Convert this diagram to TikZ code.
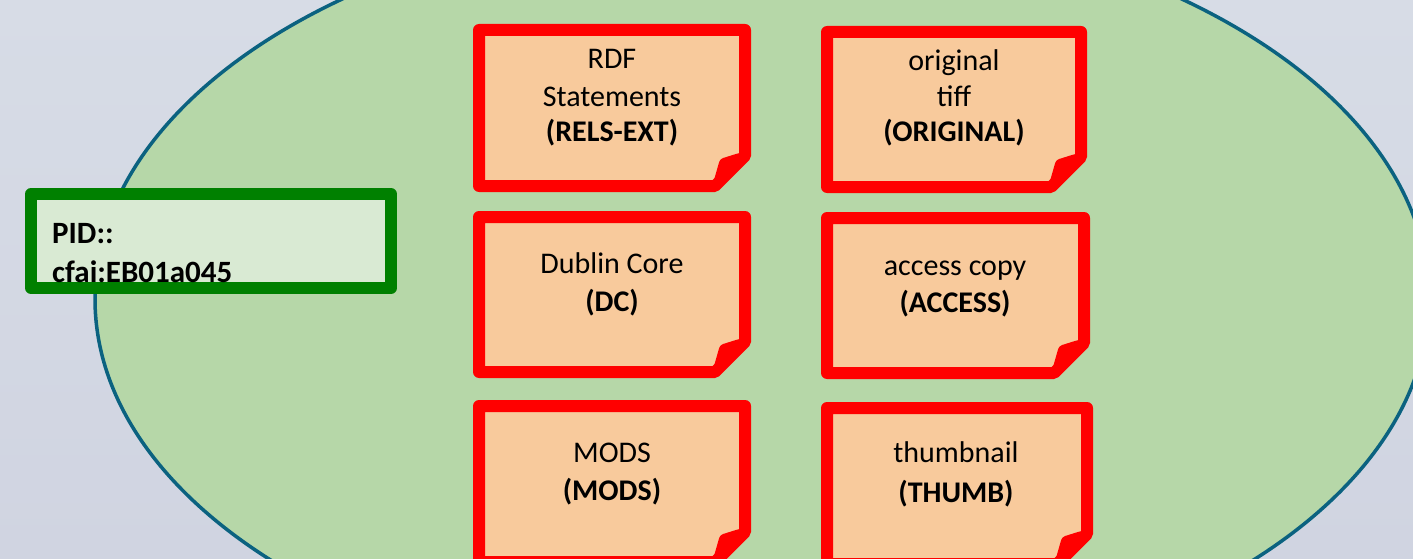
\documentclass[tikz,border=0pt]{standalone}
\usepackage{fontspec}
\setmainfont{Carlito}
\definecolor{bgtop}{HTML}{D7DCE6}
\definecolor{bgbot}{HTML}{D0D4E1}
\definecolor{ellfill}{HTML}{B6D7A8}
\definecolor{elledge}{HTML}{0B6280}
\definecolor{peach}{HTML}{F8CA9C}
\definecolor{pidfill}{HTML}{D9EAD3}
\definecolor{pidedge}{HTML}{008000}
\tikzset{
  docline/.style={draw=red, fill=peach, line width=12pt, line join=round},
  pidline/.style={draw=pidedge, fill=pidfill, line width=12pt, line join=round},
  boxtxt/.style={anchor=base, inner sep=0pt, font=\fontsize{30}{36}\selectfont},
  pidtxt/.style={anchor=base west, inner sep=0pt, font=\bfseries\fontsize{31}{37}\selectfont},
}
\newcommand\docbox[4]{%
  \draw[docline] (#1,#2) -- (#3,#2) -- (#3,{#4-30}) -- ({#3-30},#4) -- (#1,#4) -- cycle;
  \fill[red, rounded corners=3pt] ({#3+6},{#4-34}) -- ({#3-6},{#4-33}) -- ({#3-25},{#4-27}) -- ({#3-31},{#4-6}) -- ({#3-33},{#4+6}) -- cycle;
}
\begin{document}
\begin{tikzpicture}[x=1pt,y=-1pt]
\useasboundingbox (0,0) rectangle (1413,559);
\clip (0,0) rectangle (1413,559);
\shade[top color=bgtop, bottom color=bgbot] (0,0) rectangle (1413,559);
\draw[fill=ellfill, draw=elledge, line width=3.5pt] (762,299) ellipse [x radius=667, y radius=386];
% PID box
\draw[pidline] (31,194) rectangle (391,288);
\node[pidtxt] (pid1) at (52,243) {PID::};
\node[pidtxt] (pid2) at (52,282) {cfai:EB01a045};
% document boxes
\docbox{479}{30}{745}{186}
\docbox{479}{217}{745}{372}
\docbox{479}{406}{745}{562}
\docbox{827}{32}{1081}{187}
\docbox{827}{218}{1084}{373}
\docbox{827}{408}{1087}{564}
% texts
\node[boxtxt] (rdfa) at (612,69) {RDF};
\node[boxtxt] (rdfb) at (612,107) {Statements};
\node[boxtxt] (rdfc) at (612,142) {\bfseries (RELS-EXT)};
\node[boxtxt] (dca) at (612,273) {Dublin Core};
\node[boxtxt] (dcb) at (612,311) {\bfseries (DC)};
\node[boxtxt] (modsa) at (612,462) {MODS};
\node[boxtxt] (modsb) at (612,500) {\bfseries (MODS)};
\node[boxtxt] (origa) at (954,71) {original};
\node[boxtxt] (origb) at (954,107) {tiff};
\node[boxtxt] (origc) at (954,142) {\bfseries (ORIGINAL)};
\node[boxtxt] (acca) at (955,275) {access copy};
\node[boxtxt] (accb) at (955,312) {\bfseries (ACCESS)};
\node[boxtxt] (thma) at (956,462) {thumbnail};
\node[boxtxt] (thmb) at (956,502) {\bfseries (THUMB)};
\end{tikzpicture}
\end{document}
